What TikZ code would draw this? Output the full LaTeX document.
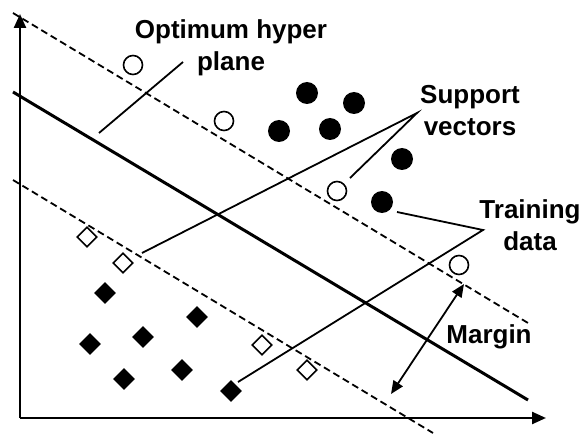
\documentclass[tikz,border=0pt]{standalone}
\usepackage{fontspec}
\setmainfont{Liberation Sans}
\usetikzlibrary{shapes.geometric,arrows.meta}
\begin{document}
\begin{tikzpicture}[x=1pt,y=-1pt,
  lbl/.style={font=\fontsize{26}{32}\selectfont\bfseries, align=center, inner sep=0pt},
  opencirc/.style={circle, draw, line width=1.6pt, minimum size=19pt, inner sep=0pt},
  fullcirc/.style={circle, fill, minimum size=22pt, inner sep=0pt},
  opendia/.style={diamond, draw, line width=1.6pt, minimum size=20pt, inner sep=0pt},
  fulldia/.style={diamond, fill, minimum size=22pt, inner sep=0pt},
  leader/.style={line width=1.8pt},
  marginline/.style={line width=1.8pt, dash pattern=on 7pt off 4pt},
  hyper/.style={line width=3pt},
  axis/.style={line width=2.4pt, -{Triangle[length=14pt,width=12pt]}}]
\useasboundingbox (0,0) rectangle (582,436);
% axes
\coordinate (org) at (20,418);
\coordinate (ytip) at (20,14);
\coordinate (xtip) at (546,418);
\draw[axis] (org) -- (ytip);
\draw[axis] (org) -- (xtip);
% hyperplane and margins
\draw[hyper] (13,92) -- (528,400);
\draw[marginline] (13,13) -- (528,323);
\draw[marginline] (13,180) -- (433,433);
% open circles
\node[opencirc] (c1) at (133,65) {};
\node[opencirc] (c2) at (224,121) {};
\node[opencirc] (c3) at (337,191) {};
\node[opencirc] (c4) at (459,265) {};
% filled circles
\node[fullcirc] (f1) at (307,93) {};
\node[fullcirc] (f2) at (354,103) {};
\node[fullcirc] (f3) at (279,131) {};
\node[fullcirc] (f4) at (330,129) {};
\node[fullcirc] (f5) at (402,159) {};
\node[fullcirc] (f6) at (382,202) {};
% open diamonds
\node[opendia] (d1) at (87,237) {};
\node[opendia] (d2) at (123,263) {};
\node[opendia] (d3) at (262,345) {};
\node[opendia] (d4) at (307,370) {};
% filled diamonds
\node[fulldia] (q1) at (105,293) {};
\node[fulldia] (q2) at (197,317) {};
\node[fulldia] (q3) at (90,344) {};
\node[fulldia] (q4) at (143,337) {};
\node[fulldia] (q5) at (124,379) {};
\node[fulldia] (q6) at (182,370) {};
\node[fulldia] (q7) at (231,391) {};
% labels
\node[lbl] (lopt) at (231,48) {Optimum hyper\\plane};
\node[lbl] (lsv) at (470,111) {Support\\vectors};
\node[lbl] (ltd) at (530,225) {Training\\data};
\node[lbl, anchor=base] (lmar) at (489,343) {Margin};
% leader ends
\coordinate (optA) at (183,62);
\coordinate (optB) at (99,133);
\coordinate (svA) at (417,113);
\coordinate (svB) at (350,178);
\coordinate (svC) at (142,253);
\coordinate (tdA) at (483,230);
\coordinate (tdB) at (397,212);
\coordinate (tdC) at (238,382);
\coordinate (mA) at (464,284);
\coordinate (mB) at (391,394);
\draw[leader] (optA) -- (optB);
\draw[leader] (svB) -- (svA) -- (svC);
\draw[leader] (tdB) -- (tdA) -- (tdC);
\draw[leader, {Triangle[length=13pt,width=11pt]}-{Triangle[length=13pt,width=11pt]}] (mA) -- (mB);
\end{tikzpicture}
\end{document}
